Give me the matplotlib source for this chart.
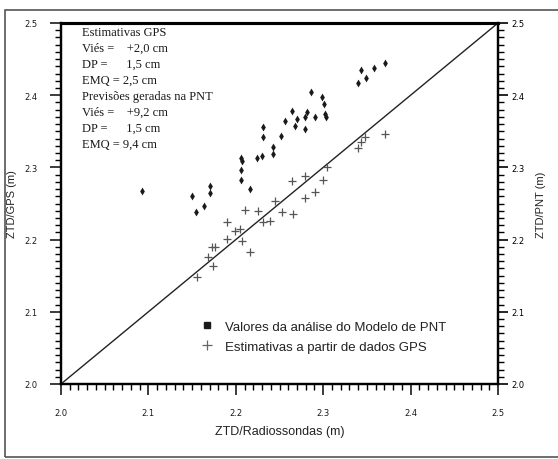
import matplotlib
matplotlib.use("Agg")
import matplotlib.pyplot as plt
from matplotlib.ticker import MultipleLocator
from matplotlib.patches import Rectangle
from matplotlib.lines import Line2D

# PNT model analysis values (x: radiosonde ZTD, y: PNT ZTD), metres
pnt_x = [2.093, 2.150, 2.155, 2.164, 2.171, 2.171, 2.206, 2.206, 2.216, 2.206,
         2.207, 2.224, 2.230, 2.243, 2.243, 2.231, 2.231, 2.252, 2.256, 2.264,
         2.270, 2.268, 2.279, 2.282, 2.279, 2.291, 2.286, 2.299, 2.301, 2.302,
         2.303, 2.340, 2.343, 2.349, 2.358, 2.371]
pnt_y = [2.267, 2.260, 2.238, 2.247, 2.274, 2.265, 2.296, 2.283, 2.270, 2.313,
         2.309, 2.313, 2.316, 2.328, 2.319, 2.356, 2.342, 2.344, 2.364, 2.378,
         2.367, 2.357, 2.353, 2.377, 2.370, 2.370, 2.404, 2.398, 2.388, 2.374,
         2.370, 2.417, 2.435, 2.424, 2.438, 2.445]

# GPS estimates (x: radiosonde ZTD, y: GPS ZTD), metres
gps_x = [2.156, 2.174, 2.168, 2.173, 2.176, 2.190, 2.190, 2.199, 2.205, 2.207,
         2.216, 2.211, 2.225, 2.231, 2.239, 2.245, 2.253, 2.265, 2.264, 2.279,
         2.279, 2.291, 2.300, 2.304, 2.340, 2.343, 2.348, 2.371]
gps_y = [2.148, 2.163, 2.176, 2.190, 2.190, 2.224, 2.201, 2.212, 2.215, 2.198,
         2.183, 2.241, 2.240, 2.224, 2.226, 2.254, 2.238, 2.236, 2.281, 2.288,
         2.258, 2.266, 2.283, 2.301, 2.327, 2.335, 2.342, 2.346]

ref_line = [2.0, 2.5]
ticks = [2.0, 2.1, 2.2, 2.3, 2.4, 2.5]
tick_labels = ["2.0", "2.1", "2.2", "2.3", "2.4", "2.5"]

stats_lines = ["Estimativas GPS",
               "Viés =    +2,0 cm",
               "DP =      1,5 cm",
               "EMQ = 2,5 cm",
               "Previsões geradas na PNT",
               "Viés =    +9,2 cm",
               "DP =      1,5 cm",
               "EMQ = 9,4 cm"]

legend_labels = ["Valores da análise do Modelo de PNT",
                 "Estimativas a partir de dados GPS"]

fig = plt.figure(figsize=(5.58, 4.60), dpi=100)
fig.patch.set_facecolor("white")
fig.add_artist(Rectangle((5/558, 2/460), 560/558, 447/460, transform=fig.transFigure,
                         fill=False, edgecolor="#555555", linewidth=1.2))

ax = fig.add_axes([61/558, 75/460, 437/558, 361/460])
ax.set_xlim(2.0, 2.5)
ax.set_ylim(2.0, 2.5)

ax.plot(ref_line, ref_line, color="#222222", linewidth=1.0, zorder=2)
ax.scatter(gps_x, gps_y, marker="+", s=32, color="#555555", linewidths=0.9, zorder=3)
ax.scatter(pnt_x, pnt_y, marker="d", s=16, color="#1a1a1a", linewidths=0, zorder=4)

for sp in ax.spines.values():
    sp.set_linewidth(1.6)
    sp.set_color("#1a1a1a")
ax.spines["top"].set_linewidth(2.2)

ax.set_xticks(ticks)
ax.set_xticklabels(tick_labels)
ax.set_yticks(ticks)
ax.set_yticklabels(tick_labels)
ax.xaxis.set_minor_locator(MultipleLocator(0.01))
ax.yaxis.set_minor_locator(MultipleLocator(0.01))
ax.tick_params(which="major", direction="out", length=8, width=1.2, labelsize=6,
               pad=9, colors="#1a1a1a", top=False, right=False)
ax.tick_params(which="minor", direction="out", length=4, width=1.0,
               top=False, right=False)

ax2 = ax.twinx()
ax2.set_ylim(2.0, 2.5)
ax2.set_yticks(ticks)
ax2.set_yticklabels(tick_labels)
ax2.yaxis.set_minor_locator(MultipleLocator(0.01))
ax2.tick_params(which="major", direction="out", length=7, width=1.2, labelsize=6, pad=3)
ax2.tick_params(which="minor", direction="out", length=4, width=1.0)
for sp in ax2.spines.values():
    sp.set_linewidth(1.6)
ax2.spines["top"].set_linewidth(2.2)

ax.set_xlabel("ZTD/Radiossondas (m)", fontsize=9, family="Liberation Sans",
              color="#222222", labelpad=6)
ax.set_ylabel("ZTD/GPS (m)", fontsize=8, family="Liberation Sans",
              color="#222222", labelpad=5)
ax2.set_ylabel("ZTD/PNT (m)", fontsize=8, family="Liberation Sans",
               color="#222222", rotation=90, labelpad=8)

# statistics text block
y0 = 33
for i, line in enumerate(stats_lines):
    fig.text(82/558, 1 - (y0 + i * 16.0)/460, line, fontsize=9,
             family="Liberation Serif", color="#1a1a1a", va="center", ha="left")

handles = [Line2D([], [], marker="s", linestyle="none", markersize=4,
                  markerfacecolor="#1a1a1a", markeredgecolor="#1a1a1a"),
           Line2D([], [], marker="+", linestyle="none", markersize=7,
                  markeredgecolor="#666666", markeredgewidth=0.9)]
leg = ax.legend(handles, legend_labels, loc="upper left",
                bbox_to_anchor=(0.305, 0.19), frameon=False,
                prop={"family": "Liberation Sans", "size": 9.5},
                handletextpad=0.7, labelspacing=0.6, handlelength=1.2,
                borderaxespad=0)
for t in leg.get_texts():
    t.set_color("#222222")

fig.savefig("out.png", dpi=100, facecolor="white")
